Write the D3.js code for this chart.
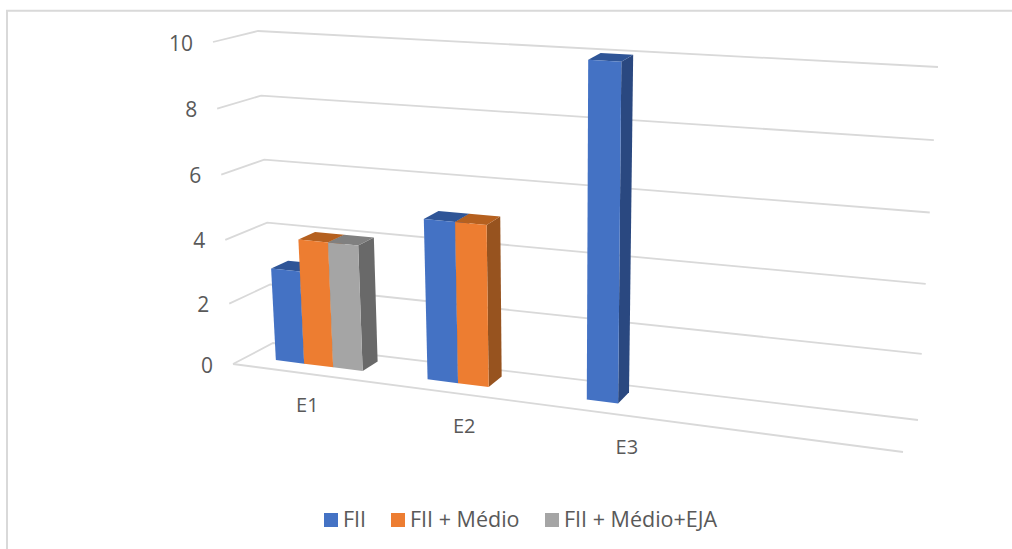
<!DOCTYPE html>
<html>
<head>
<meta charset="utf-8">
<script src="https://cdn.jsdelivr.net/npm/d3@7"></script>
<style>
  html, body { margin: 0; padding: 0; background: #fff; }
  svg { display: block; }
  text { font-family: "Open Sans", Lato, sans-serif; fill: #595959; }
</style>
</head>
<body>
<svg id="chart" width="1012" height="549"></svg>
<script>
// Chart data
const categories = ["E1", "E2", "E3", ""];
const seriesNames = ["FII", "FII + Médio", "FII + Médio+EJA"];
const fii = [3, 5, 10, null];
const fiiMedio = [4, 5, null, null];
const fiiMedioEja = [4, null, null, null];
const valueTicks = [0, 2, 4, 6, 8, 10];

const seriesValues = [fii, fiiMedio, fiiMedioEja];
const frontColors = ["#4472C4", "#ED7D31", "#A5A5A5"];
const sideColors = ["#2A4880", "#97531F", "#696969"];
const topColors = ["#2F5597", "#B5601F", "#808080"];

const width = 1012, height = 549;
const svg = d3.select("#chart");

// Corners of the 3D box, as screen position at value 0 and value 10
const corners = {
  frontLeft:  { x: [233, 213], y: [364, 42] },
  backLeft:   { x: [273, 258], y: [343, 31] },
  backRight:  { x: [918, 938], y: [420, 67] },
  frontRight: { x: [903, 923], y: [452, 88] }
};

// Value axis and category axis both run with a slight perspective stretch
const valueScale = d3.scalePow().exponent(1.04).domain([0, 10]).range([0, 1]);
const alongScale = d3.scalePow().exponent(1.05).domain([0, 1]).range([0, 1]);
const categoryBand = d3.scaleBand().domain(categories).range([0, 0.96]);
const seriesBand = d3.scaleBand().domain(seriesNames).range([0.05, 0.1895]);

const lerp = (a, b, k) => a + (b - a) * k;

// Maps position along the categories (u), depth (d) and value (v) to the screen
function project(u, d, v) {
  const h = valueScale(v);
  const t = alongScale(u);
  const at = c => [lerp(c.x[0], c.x[1], h), lerp(c.y[0], c.y[1], h)];
  const fl = at(corners.frontLeft), bl = at(corners.backLeft);
  const fr = at(corners.frontRight), br = at(corners.backRight);
  const left = [lerp(fl[0], bl[0], d), lerp(fl[1], bl[1], d)];
  const right = [lerp(fr[0], br[0], d), lerp(fr[1], br[1], d)];
  return [lerp(left[0], right[0], t), lerp(left[1], right[1], t)];
}

const line = d3.line();

// Outer frame
svg.append("g").attr("class", "frame")
  .append("path")
  .attr("d", line([[7, height], [7, 10.7], [width, 10.7]]))
  .attr("fill", "none").attr("stroke", "#D9D9D9").attr("stroke-width", 2);

// Gridlines along the side wall and back wall
const grid = svg.append("g").attr("class", "grid")
  .attr("fill", "none").attr("stroke", "#D9D9D9").attr("stroke-width", 1.8);
grid.selectAll("path.wall").data(valueTicks).join("path")
  .attr("class", "wall")
  .attr("d", v => line([project(0, 0, v), project(0, 1, v), project(1, 1, v)]));
// Front edge of the floor
grid.append("path").attr("d", line([project(0, 0, 0), project(1, 0, 0)]));

// Value axis labels
svg.append("g").attr("class", "value-labels")
  .selectAll("text").data(valueTicks).join("text")
  .attr("x", v => project(0, 0, v)[0] - 20)
  .attr("y", v => project(0, 0, v)[1] + 8.5)
  .attr("text-anchor", "end")
  .attr("font-size", 21)
  .text(v => v);

// Bars: one box per non-empty value, front face plus side and top
const depthFront = 0.36, depthBack = 0.78;
const barData = [];
categories.forEach((cat, ci) => {
  seriesNames.forEach((name, si) => {
    const value = seriesValues[si][ci];
    if (value != null) barData.push({ cat, name, si, value });
  });
});

const bars = svg.append("g").attr("class", "bars")
  .selectAll("g").data(barData).join("g");

function face(d, points) {
  return line(points.map(p => project(p[0], p[1], p[2])));
}
const edges = d => {
  const u0 = categoryBand(d.cat) + seriesBand(d.name);
  return [u0, u0 + seriesBand.bandwidth()];
};

bars.append("path")
  .attr("fill", d => sideColors[d.si])
  .attr("d", d => {
    const [, u1] = edges(d);
    return face(d, [[u1, depthFront, 0], [u1, depthBack, 0], [u1, depthBack, d.value], [u1, depthFront, d.value]]) + "Z";
  });
bars.append("path")
  .attr("fill", d => topColors[d.si])
  .attr("d", d => {
    const [u0, u1] = edges(d);
    return face(d, [[u0, depthFront, d.value], [u1, depthFront, d.value], [u1, depthBack, d.value], [u0, depthBack, d.value]]) + "Z";
  });
bars.append("path")
  .attr("fill", d => frontColors[d.si])
  .attr("d", d => {
    const [u0, u1] = edges(d);
    return face(d, [[u0, depthFront, 0], [u1, depthFront, 0], [u1, depthFront, d.value], [u0, depthFront, d.value]]) + "Z";
  });

// Category labels below the floor
svg.append("g").attr("class", "category-labels")
  .selectAll("text").data(categories.filter(c => c)).join("text")
  .attr("x", c => project(categoryBand(c) + 0.12, 0, 0)[0] + 2)
  .attr("y", c => project(categoryBand(c) + 0.12, 0, 0)[1] + 39)
  .attr("text-anchor", "middle")
  .attr("font-size", 20)
  .text(c => c);

// Legend
const legendX = d3.scaleOrdinal().domain(seriesNames).range([324, 391, 545]);
const legend = svg.append("g").attr("class", "legend")
  .selectAll("g").data(seriesNames).join("g")
  .attr("transform", n => `translate(${legendX(n)},513)`);
legend.append("rect").attr("width", 14).attr("height", 14)
  .attr("fill", (n, i) => frontColors[i]);
legend.append("text").attr("x", 19).attr("y", 13.5)
  .attr("font-size", 21.5).text(n => n);
</script>
</body>
</html>
